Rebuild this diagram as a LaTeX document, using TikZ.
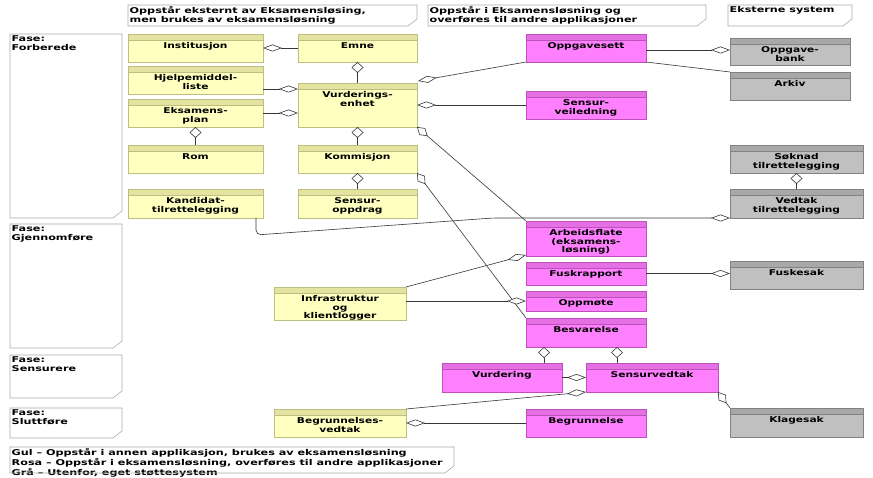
\documentclass[tikz,border=0pt]{standalone}
\usepackage{fontspec}
\newfontfamily\dvb{DejaVu Sans Bold}[FakeStretch=1.33]
\newfontfamily\dvbw{DejaVu Sans Bold}[FakeStretch=1.40]
\usetikzlibrary{arrows.meta,calc}
\definecolor{ybody}{RGB}{255,255,192}
\definecolor{yhead}{RGB}{228,228,160}
\definecolor{yline}{RGB}{190,190,130}
\definecolor{pbody}{RGB}{255,128,255}
\definecolor{phead}{RGB}{228,112,228}
\definecolor{pline}{RGB}{190,80,190}
\definecolor{gbody}{RGB}{192,192,192}
\definecolor{ghead}{RGB}{168,168,168}
\definecolor{gline}{RGB}{130,130,130}
\definecolor{nline}{RGB}{170,170,170}
\definecolor{conn}{RGB}{55,55,55}
\tikzset{
  txt/.style={font=\dvb\fontsize{8}{8.5}\selectfont, text=black},
  ntxt/.style={font=\dvbw\fontsize{8}{8.5}\selectfont, text=black},
  box/.style={rectangle, inner sep=0pt, outer sep=0pt, anchor=north west, line width=0.6pt},
  sz/.style 2 args={minimum width=#1pt, minimum height=#2pt},
  band/.style 2 args={path picture={
      \fill[#1] (path picture bounding box.north west) rectangle ([yshift=-6.5pt]path picture bounding box.north east);
      \draw[#2, line width=0.4pt] ([yshift=-6.5pt]path picture bounding box.north west) -- ([yshift=-6.5pt]path picture bounding box.north east);}},
  ycls/.style={box, draw=yline, fill=ybody, band={yhead}{yline}},
  pcls/.style={box, draw=pline, fill=pbody, band={phead}{pline}},
  gcls/.style={box, draw=gline, fill=gbody, band={ghead}{gline}},
  ttl/.style={txt, anchor=north, yshift=-8.5pt, align=center, inner sep=0pt},
  note/.style={rectangle, inner sep=0pt, outer sep=0pt, anchor=north west},
  nt/.style={ntxt, anchor=north west, inner sep=0pt, align=left, xshift=1.5pt, yshift=-1.5pt},
  noteline/.style={draw=nline, line width=0.6pt},
  conn/.style={draw=conn, line width=0.6pt},
  hd/.style={conn, -{Diamond[open, fill=white, length=19pt, width=7pt]}},
  vd/.style={conn, -{Diamond[open, fill=white, length=11pt, width=12pt]}},
  dd/.style={conn, -{Diamond[open, fill=white, length=14pt, width=9pt]}},
}
\newcommand\notecut[1]{\draw[noteline] (#1.north west) -- (#1.north east) -- ($(#1.south east)+(0,-7)$) -- ($(#1.south east)+(-9,0)$) -- (#1.south west) -- cycle;}
\begin{document}
\begin{tikzpicture}[x=1pt,y=-1pt]
\useasboundingbox (0,0) rectangle (873,478);
\fill[white] (0,0) rectangle (873,478);

% notes
\node[note, sz={289}{21}, label={[nt]north west:{Oppstår eksternt av Eksamensløsing,\\men brukes av eksamensløsning}}] (h1) at (128,5) {};
\node[note, sz={278}{21}, label={[nt]north west:{Oppstår i Eksamensløsning og\\overføres til andre applikasjoner}}] (h2) at (428,5) {};
\node[note, sz={124}{21}, label={[nt]north west:{Eksterne system}}] (h3) at (728,5) {};
\node[note, sz={112}{184}, label={[nt]north west:{Fase:\\Forberede}}] (f1) at (10,34) {};
\node[note, sz={112}{124}, label={[nt]north west:{Fase:\\Gjennomføre}}] (f2) at (10,224) {};
\node[note, sz={112}{43}, label={[nt]north west:{Fase:\\Sensurere}}] (f3) at (10,355) {};
\node[note, sz={112}{30}, label={[nt]north west:{Fase:\\Sluttføre}}] (f4) at (10,408) {};
\node[note, sz={444}{26}, label={[nt]north west:{Gul – Oppstår i annen applikasjon, brukes av eksamensløsning\\Rosa – Oppstår i eksamensløsning, overføres til andre applikasjoner\\Grå – Utenfor, eget støttesystem}}] (leg) at (10,447) {};
\notecut{h1}\notecut{h2}\notecut{h3}\notecut{f1}\notecut{f2}\notecut{f3}\notecut{f4}\notecut{leg}

% yellow
\node[ycls, sz={135}{28}, label={[ttl]north:Institusjon}] (inst) at (128,34) {};
\node[ycls, sz={119}{28}, label={[ttl]north:Emne}] (emne) at (298,34) {};
\node[ycls, sz={135}{28}, label={[ttl]north:{Hjelpemiddel-\\liste}}] (hjelp) at (128,66) {};
\node[ycls, sz={135}{28}, label={[ttl]north:{Eksamens-\\plan}}] (eplan) at (128,99) {};
\node[ycls, sz={119}{44}, label={[ttl]north:{Vurderings-\\enhet}}] (vurd) at (298,83) {};
\node[ycls, sz={135}{28}, label={[ttl]north:Rom}] (rom) at (128,145) {};
\node[ycls, sz={119}{28}, label={[ttl]north:Kommisjon}] (komm) at (298,145) {};
\node[ycls, sz={135}{29}, label={[ttl]north:{Kandidat-\\tilrettelegging}}] (kand) at (128,189) {};
\node[ycls, sz={119}{29}, label={[ttl]north:{Sensur-\\oppdrag}}] (sopp) at (298,189) {};
\node[ycls, sz={132}{33}, label={[ttl]north:{Infrastruktur\\og\\klientlogger}}] (infra) at (274,287) {};
\node[ycls, sz={132}{28}, label={[ttl]north:{Begrunnelses-\\vedtak}}] (bvedt) at (274,409) {};

% pink
\node[pcls, sz={120}{28}, label={[ttl]north:Oppgavesett}] (oppg) at (526,34) {};
\node[pcls, sz={120}{28}, label={[ttl]north:{Sensur-\\veiledning}}] (sveil) at (526,91) {};
\node[pcls, sz={120}{35}, label={[ttl]north:{Arbeidsflate\\(eksamens-\\løsning)}}] (arb) at (526,221) {};
\node[pcls, sz={120}{23}, label={[ttl]north:Fuskrapport}] (fusk) at (526,262) {};
\node[pcls, sz={120}{20}, label={[ttl]north:Oppmøte}] (oppm) at (526,291) {};
\node[pcls, sz={120}{29}, label={[ttl]north:Besvarelse}] (besv) at (526,318) {};
\node[pcls, sz={120}{29}, label={[ttl]north:Vurdering}] (vurdering) at (442,363) {};
\node[pcls, sz={132}{29}, label={[ttl]north:Sensurvedtak}] (svedt) at (586,363) {};
\node[pcls, sz={120}{28}, label={[ttl]north:Begrunnelse}] (begr) at (526,409) {};

% grey
\node[gcls, sz={120}{27}, label={[ttl]north:{Oppgave-\\bank}}] (obank) at (730,38) {};
\node[gcls, sz={120}{28}, label={[ttl]north:Arkiv}] (arkiv) at (730,72) {};
\node[gcls, sz={133}{28}, label={[ttl]north:{Søknad\\tilrettelegging}}] (soknad) at (730,145) {};
\node[gcls, sz={133}{29}, label={[ttl]north:{Vedtak\\tilrettelegging}}] (vedtak) at (730,189) {};
\node[gcls, sz={133}{28}, label={[ttl]north:Fuskesak}] (fuskesak) at (730,261) {};
\node[gcls, sz={133}{29}, label={[ttl]north:Klagesak}] (klage) at (730,408) {};

% connectors
\draw[hd] (emne.west) -- (inst.east);
\draw[vd] (vurd.north) -- (emne.south);
\draw[hd] ($(hjelp.east)+(0,9)$) -- ($(vurd.west)+(0,-16)$);
\draw[hd] (eplan.east) -- ($(vurd.west)+(0,8)$);
\draw[vd] (rom.north) -- (eplan.south);
\draw[vd] (komm.north) -- (vurd.south);
\draw[vd] (sopp.north) -- (komm.south);
\draw[hd] (oppg.south west) -- ($(vurd.north east)+(1,-2)$);
\draw[hd] (sveil.west) -- (vurd.east);
\draw[dd] (arb.north west) -- (vurd.south east);
\coordinate (kv) at (493,218);
\draw[hd, rounded corners=5pt] ($(kand.south east)+(-7,0)$) -- ++(0,17) -- (kv) -- (vedtak.south west);
\draw[vd] (vedtak.north) -- (soknad.south);
\draw[hd] ($(oppg.east)+(0,2)$) -- ($(obank.west)+(0,-1.5)$);
\draw[conn] (oppg.south east) -- (arkiv.north west);
\draw[dd] (besv.north west) -- (komm.south east);
\draw[hd] (infra.north east) -- ($(arb.south west)+(0,-1)$);
\draw[hd] (infra.east |- oppm.west) -- (oppm.west);
\draw[hd] (fusk.east) -- (fusk.east -| fuskesak.west);
\coordinate (b1) at ($(besv.south west)+(18,0)$);
\coordinate (b2) at ($(besv.south west)+(91,0)$);
\draw[vd] (b1 |- vurdering.north) -- (b1);
\draw[vd] (b2 |- svedt.north) -- (b2);
\draw[hd] (vurdering.east) -- (svedt.west);
\draw[hd] (bvedt.north east) -- (svedt.south west);
\draw[hd] (begr.west) -- (bvedt.east);
\draw[dd] (klage.north west) -- (svedt.south east);
\end{tikzpicture}
\end{document}
